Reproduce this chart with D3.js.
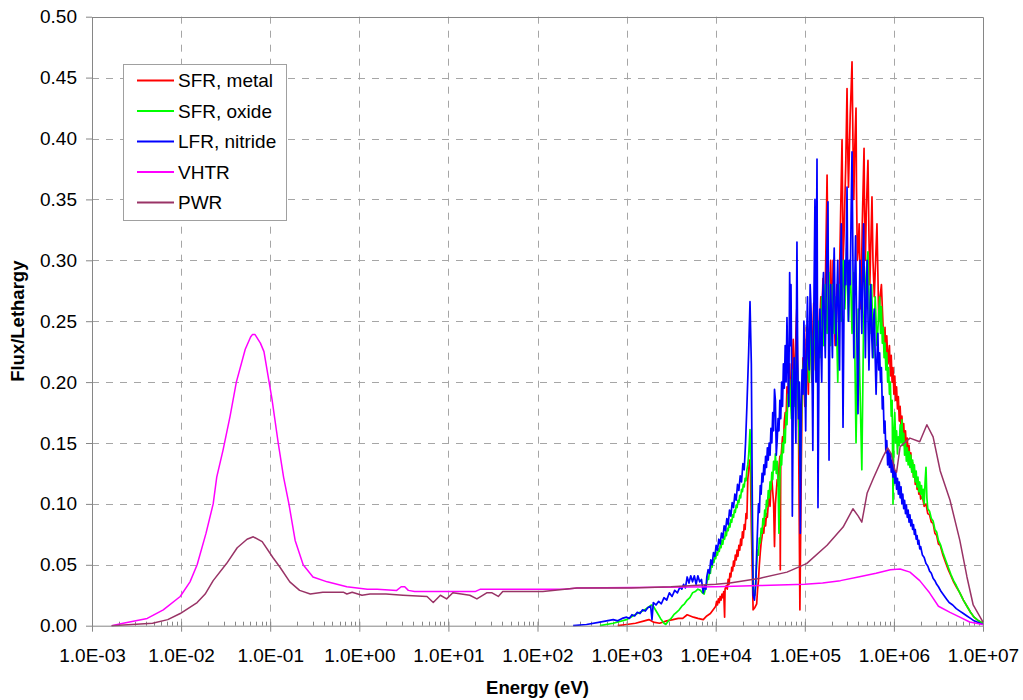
<!DOCTYPE html>
<html>
<head>
<meta charset="utf-8">
<script src="https://cdn.jsdelivr.net/npm/d3@7"></script>
<style>
  body { margin: 0; background: #fff; }
  svg { display: block; }
  text { font-family: "Liberation Sans", Arial, sans-serif; }
</style>
</head>
<body>
<svg id="chart" width="1023" height="700"></svg>
<script>
// Neutron spectra: each point is [log10(E / eV), flux per unit lethargy]

const sfrMetal = [
  [2.90,0.000],[3.00,0.001],[3.10,0.002],[3.20,0.004],[3.25,0.005],[3.30,0.003],[3.37,0.002],
  [3.45,0.004],[3.52,0.005],[3.58,0.006],[3.63,0.006],[3.68,0.009],[3.75,0.007],[3.80,0.006],
  [3.86,0.005],[3.90,0.008],[3.94,0.010],[3.98,0.014],[4.00,0.016],[4.01,0.020],[4.02,0.017],
  [4.03,0.022],[4.04,0.019],[4.05,0.024],[4.06,0.021],[4.07,0.026],[4.08,0.023],[4.09,0.028],
  [4.10,0.007],[4.105,0.030],[4.12,0.033],[4.13,0.030],[4.14,0.038],[4.15,0.034],[4.16,0.043],
  [4.17,0.040],[4.18,0.048],[4.19,0.045],[4.20,0.053],[4.21,0.049],[4.22,0.058],[4.23,0.054],
  [4.24,0.062],[4.25,0.057],[4.26,0.066],[4.27,0.062],[4.28,0.071],[4.29,0.066],[4.30,0.077],
  [4.31,0.072],[4.32,0.083],[4.33,0.079],[4.34,0.092],[4.35,0.088],[4.36,0.120],[4.38,0.136],
  [4.39,0.130],[4.40,0.080],[4.42,0.013],[4.44,0.015],[4.46,0.018],[4.47,0.030],[4.48,0.037],
  [4.49,0.050],[4.50,0.060],[4.51,0.068],[4.52,0.073],[4.53,0.080],[4.54,0.076],[4.55,0.088],
  [4.56,0.082],[4.57,0.092],[4.58,0.089],[4.59,0.100],[4.60,0.106],[4.61,0.098],[4.62,0.115],
  [4.63,0.120],[4.64,0.110],[4.65,0.100],[4.66,0.065],[4.67,0.100],[4.68,0.110],[4.69,0.120],
  [4.70,0.115],[4.71,0.130],[4.72,0.139],[4.725,0.046],[4.73,0.135],[4.74,0.145],[4.75,0.155],
  [4.76,0.150],[4.77,0.168],[4.78,0.175],[4.79,0.170],[4.80,0.196],[4.81,0.185],[4.82,0.205],
  [4.83,0.215],[4.84,0.195],[4.85,0.180],[4.86,0.215],[4.87,0.235],[4.88,0.210],[4.89,0.200],
  [4.90,0.240],[4.91,0.260],[4.92,0.210],[4.93,0.160],[4.945,0.013],[4.96,0.125],[4.97,0.190],
  [4.98,0.220],[4.99,0.200],[5.00,0.180],[5.01,0.220],[5.02,0.245],[5.03,0.215],[5.04,0.190],
  [5.05,0.230],[5.06,0.255],[5.07,0.225],[5.08,0.200],[5.09,0.240],[5.10,0.265],[5.11,0.235],
  [5.12,0.210],[5.13,0.240],[5.14,0.260],[5.15,0.240],[5.16,0.220],[5.17,0.250],[5.18,0.270],
  [5.19,0.250],[5.204,0.285],[5.21,0.255],[5.22,0.230],[5.235,0.300],[5.25,0.370],[5.26,0.300],
  [5.27,0.250],[5.28,0.280],[5.29,0.300],[5.30,0.270],[5.31,0.240],[5.317,0.300],[5.33,0.260],
  [5.34,0.230],[5.35,0.260],[5.36,0.280],[5.37,0.270],[5.38,0.250],[5.39,0.290],[5.40,0.330],
  [5.418,0.399],[5.425,0.340],[5.43,0.300],[5.44,0.320],[5.45,0.350],[5.46,0.380],[5.474,0.441],
  [5.48,0.400],[5.49,0.360],[5.50,0.390],[5.51,0.420],[5.52,0.440],[5.53,0.463],[5.54,0.400],
  [5.55,0.350],[5.56,0.390],[5.575,0.425],[5.58,0.360],[5.59,0.300],[5.60,0.310],[5.61,0.330],
  [5.62,0.290],[5.63,0.260],[5.645,0.330],[5.665,0.392],[5.67,0.340],[5.68,0.300],[5.69,0.340],
  [5.709,0.382],[5.72,0.320],[5.73,0.280],[5.74,0.310],[5.754,0.352],[5.765,0.300],[5.78,0.270],
  [5.795,0.300],[5.81,0.330],[5.82,0.290],[5.83,0.250],[5.845,0.270],[5.86,0.280],[5.877,0.248],
  [5.89,0.225],[5.90,0.245],[5.91,0.220],[5.92,0.238],[5.934,0.215],[5.95,0.230],[5.96,0.205],
  [5.97,0.222],[5.98,0.200],[5.99,0.212],[6.00,0.190],[6.01,0.205],[6.02,0.185],[6.03,0.196],
  [6.04,0.178],[6.05,0.188],[6.06,0.168],[6.07,0.180],[6.08,0.162],[6.09,0.172],[6.10,0.158],
  [6.11,0.166],[6.12,0.150],[6.13,0.160],[6.14,0.146],[6.15,0.154],[6.16,0.140],[6.17,0.148],
  [6.18,0.135],[6.19,0.142],[6.20,0.128],[6.21,0.134],[6.22,0.122],[6.23,0.128],[6.24,0.116],
  [6.25,0.122],[6.26,0.112],[6.27,0.118],[6.28,0.108],[6.29,0.113],[6.30,0.104],[6.32,0.106],
  [6.34,0.098],[6.36,0.100],[6.38,0.092],[6.40,0.091],[6.42,0.085],[6.44,0.084],[6.46,0.076],
  [6.48,0.074],[6.50,0.067],[6.52,0.066],[6.55,0.058],[6.58,0.052],[6.61,0.046],[6.64,0.041],
  [6.67,0.036],[6.70,0.032],[6.74,0.027],[6.78,0.021],[6.82,0.016],[6.86,0.011],[6.90,0.007],
  [6.95,0.004],[7.00,0.002]
];

const sfrOxide = [
  [2.70,0.000],[2.85,0.002],[3.00,0.005],[3.07,0.008],[3.12,0.010],[3.18,0.012],[3.24,0.015],
  [3.28,0.017],[3.30,0.016],[3.34,0.011],[3.38,0.006],[3.42,0.002],[3.44,0.001],[3.47,0.004],
  [3.50,0.006],[3.53,0.009],[3.56,0.011],[3.59,0.013],[3.62,0.016],[3.65,0.018],[3.68,0.021],
  [3.71,0.023],[3.74,0.027],[3.77,0.028],[3.80,0.030],[3.83,0.029],[3.85,0.027],[3.87,0.026],
  [3.90,0.035],[3.91,0.040],[3.92,0.038],[3.93,0.045],[3.94,0.043],[3.95,0.050],[3.96,0.048],
  [3.97,0.054],[3.98,0.052],[3.99,0.057],[4.00,0.055],[4.01,0.060],[4.02,0.058],[4.03,0.063],
  [4.04,0.061],[4.05,0.066],[4.06,0.064],[4.07,0.070],[4.08,0.067],[4.09,0.073],[4.10,0.071],
  [4.11,0.077],[4.12,0.074],[4.13,0.080],[4.14,0.078],[4.15,0.084],[4.16,0.081],[4.17,0.087],
  [4.18,0.085],[4.19,0.091],[4.20,0.089],[4.21,0.095],[4.22,0.093],[4.23,0.099],[4.24,0.097],
  [4.25,0.103],[4.26,0.101],[4.27,0.107],[4.28,0.105],[4.29,0.112],[4.30,0.110],[4.31,0.116],
  [4.32,0.114],[4.33,0.121],[4.34,0.119],[4.35,0.128],[4.36,0.132],[4.37,0.140],[4.385,0.161],
  [4.40,0.120],[4.42,0.030],[4.44,0.025],[4.46,0.051],[4.47,0.062],[4.48,0.058],[4.49,0.072],
  [4.50,0.068],[4.51,0.080],[4.52,0.076],[4.53,0.088],[4.54,0.083],[4.55,0.095],[4.56,0.090],
  [4.57,0.103],[4.58,0.098],[4.59,0.111],[4.60,0.105],[4.61,0.118],[4.62,0.112],[4.63,0.126],
  [4.64,0.120],[4.65,0.135],[4.66,0.128],[4.67,0.141],[4.68,0.125],[4.69,0.135],[4.70,0.118],
  [4.71,0.076],[4.72,0.120],[4.73,0.140],[4.74,0.132],[4.75,0.150],[4.76,0.142],[4.77,0.161],
  [4.78,0.150],[4.79,0.175],[4.80,0.165],[4.81,0.190],[4.82,0.180],[4.83,0.202],[4.85,0.170],
  [4.87,0.210],[4.89,0.180],[4.91,0.230],[4.93,0.170],[4.95,0.120],[4.97,0.200],[4.99,0.220],
  [5.01,0.180],[5.03,0.240],[5.05,0.200],[5.07,0.250],[5.09,0.190],[5.11,0.260],[5.13,0.210],
  [5.15,0.250],[5.17,0.220],[5.19,0.270],[5.21,0.230],[5.23,0.280],[5.25,0.240],[5.27,0.290],
  [5.29,0.230],[5.31,0.280],[5.33,0.240],[5.35,0.270],[5.37,0.200],[5.39,0.280],[5.41,0.250],
  [5.43,0.300],[5.45,0.260],[5.47,0.310],[5.49,0.250],[5.51,0.300],[5.53,0.240],[5.55,0.290],
  [5.575,0.150],[5.60,0.260],[5.64,0.128],[5.66,0.250],[5.69,0.290],[5.709,0.307],[5.73,0.240],
  [5.75,0.280],[5.77,0.220],[5.79,0.270],[5.81,0.230],[5.84,0.270],[5.85,0.240],[5.86,0.262],
  [5.87,0.232],[5.88,0.245],[5.89,0.220],[5.90,0.232],[5.91,0.210],[5.92,0.224],[5.93,0.200],
  [5.94,0.212],[5.95,0.190],[5.96,0.200],[5.97,0.172],[5.98,0.185],[5.99,0.100],[6.00,0.160],
  [6.01,0.175],[6.02,0.150],[6.03,0.160],[6.04,0.141],[6.05,0.155],[6.06,0.148],[6.07,0.165],
  [6.08,0.150],[6.09,0.169],[6.10,0.148],[6.11,0.158],[6.12,0.140],[6.13,0.150],[6.14,0.135],
  [6.15,0.146],[6.16,0.132],[6.17,0.143],[6.18,0.130],[6.19,0.140],[6.20,0.126],[6.21,0.136],
  [6.22,0.122],[6.23,0.132],[6.24,0.118],[6.25,0.127],[6.26,0.114],[6.27,0.122],[6.28,0.110],
  [6.29,0.118],[6.30,0.108],[6.31,0.115],[6.32,0.104],[6.33,0.112],[6.34,0.100],[6.35,0.118],
  [6.36,0.130],[6.37,0.105],[6.38,0.096],[6.40,0.094],[6.42,0.088],[6.44,0.086],[6.46,0.079],
  [6.48,0.077],[6.50,0.070],[6.52,0.067],[6.55,0.060],[6.58,0.054],[6.61,0.048],[6.64,0.042],
  [6.67,0.037],[6.70,0.033],[6.74,0.027],[6.78,0.021],[6.82,0.016],[6.86,0.011],[6.90,0.007],
  [6.95,0.004],[7.00,0.002]
];

const lfrNitride = [
  [2.40,0.000],[2.55,0.001],[2.70,0.003],[2.85,0.005],[2.90,0.004],[2.95,0.006],[3.00,0.007],
  [3.03,0.006],[3.06,0.009],[3.09,0.008],[3.12,0.011],[3.15,0.010],[3.18,0.013],[3.21,0.012],
  [3.24,0.015],[3.27,0.016],[3.285,0.005],[3.30,0.019],[3.33,0.017],[3.36,0.020],[3.39,0.018],
  [3.42,0.023],[3.45,0.021],[3.48,0.027],[3.51,0.024],[3.54,0.029],[3.57,0.027],[3.60,0.032],
  [3.62,0.030],[3.64,0.034],[3.66,0.031],[3.68,0.040],[3.70,0.035],[3.72,0.041],[3.74,0.036],
  [3.76,0.041],[3.78,0.034],[3.80,0.041],[3.82,0.036],[3.84,0.038],[3.86,0.027],[3.875,0.033],
  [3.89,0.030],[3.90,0.040],[3.915,0.046],[3.93,0.043],[3.945,0.054],[3.96,0.050],[3.975,0.060],
  [3.99,0.057],[4.005,0.066],[4.02,0.062],[4.035,0.071],[4.05,0.067],[4.065,0.076],[4.08,0.072],
  [4.095,0.082],[4.11,0.078],[4.125,0.088],[4.14,0.083],[4.155,0.095],[4.17,0.090],[4.185,0.101],
  [4.20,0.097],[4.215,0.108],[4.23,0.103],[4.245,0.116],[4.26,0.111],[4.275,0.123],[4.29,0.118],
  [4.305,0.133],[4.32,0.128],[4.335,0.150],[4.35,0.180],[4.37,0.225],[4.385,0.266],[4.40,0.215],
  [4.41,0.110],[4.42,0.025],[4.435,0.021],[4.45,0.035],[4.46,0.060],[4.47,0.080],[4.48,0.100],
  [4.49,0.093],[4.50,0.115],[4.51,0.108],[4.52,0.125],[4.53,0.118],[4.54,0.132],[4.55,0.124],
  [4.56,0.139],[4.57,0.130],[4.58,0.146],[4.59,0.136],[4.60,0.150],[4.61,0.140],[4.62,0.162],
  [4.63,0.150],[4.64,0.175],[4.65,0.160],[4.66,0.194],[4.67,0.185],[4.68,0.140],[4.69,0.152],
  [4.70,0.170],[4.71,0.160],[4.72,0.185],[4.73,0.170],[4.74,0.200],[4.75,0.180],[4.76,0.215],
  [4.77,0.195],[4.78,0.230],[4.79,0.200],[4.80,0.253],[4.81,0.210],[4.82,0.180],[4.83,0.290],
  [4.84,0.230],[4.845,0.280],[4.855,0.180],[4.86,0.090],[4.87,0.180],[4.88,0.220],[4.89,0.190],
  [4.90,0.150],[4.905,0.240],[4.912,0.315],[4.92,0.220],[4.93,0.170],[4.94,0.200],[4.95,0.076],
  [4.96,0.180],[4.97,0.210],[4.98,0.190],[4.99,0.250],[5.00,0.210],[5.01,0.160],[5.02,0.230],
  [5.03,0.270],[5.04,0.220],[5.05,0.210],[5.06,0.280],[5.07,0.260],[5.08,0.220],[5.09,0.144],
  [5.10,0.250],[5.114,0.350],[5.12,0.280],[5.125,0.200],[5.13,0.300],[5.137,0.383],[5.142,0.250],
  [5.148,0.097],[5.16,0.220],[5.17,0.260],[5.18,0.230],[5.19,0.200],[5.20,0.270],[5.21,0.290],
  [5.22,0.250],[5.23,0.220],[5.245,0.300],[5.26,0.348],[5.266,0.250],[5.272,0.136],[5.28,0.240],
  [5.29,0.280],[5.30,0.250],[5.31,0.220],[5.32,0.280],[5.33,0.310],[5.34,0.260],[5.35,0.230],
  [5.36,0.270],[5.37,0.300],[5.38,0.250],[5.39,0.210],[5.40,0.290],[5.41,0.330],[5.42,0.250],
  [5.429,0.163],[5.44,0.260],[5.45,0.300],[5.46,0.280],[5.474,0.360],[5.48,0.300],[5.49,0.250],
  [5.50,0.300],[5.51,0.280],[5.52,0.340],[5.53,0.389],[5.54,0.300],[5.55,0.220],[5.56,0.280],
  [5.57,0.320],[5.58,0.260],[5.597,0.174],[5.61,0.260],[5.62,0.300],[5.63,0.270],[5.64,0.240],
  [5.65,0.290],[5.66,0.330],[5.67,0.270],[5.68,0.220],[5.69,0.270],[5.70,0.300],[5.71,0.250],
  [5.72,0.210],[5.73,0.250],[5.74,0.280],[5.75,0.240],[5.76,0.220],[5.77,0.250],[5.78,0.260],
  [5.79,0.220],[5.80,0.190],[5.81,0.220],[5.82,0.240],[5.83,0.210],[5.84,0.224],[5.85,0.200],
  [5.86,0.212],[5.87,0.178],[5.88,0.188],[5.89,0.158],[5.90,0.168],[5.91,0.142],[5.92,0.152],
  [5.93,0.132],[5.94,0.144],[5.95,0.130],[5.96,0.142],[5.97,0.126],[5.98,0.136],[5.99,0.122],
  [6.00,0.132],[6.01,0.117],[6.02,0.127],[6.03,0.112],[6.04,0.121],[6.05,0.108],[6.06,0.118],
  [6.07,0.105],[6.08,0.114],[6.09,0.100],[6.10,0.108],[6.11,0.096],[6.12,0.103],[6.13,0.092],
  [6.14,0.099],[6.15,0.089],[6.16,0.095],[6.17,0.085],[6.18,0.091],[6.19,0.082],[6.20,0.087],
  [6.21,0.079],[6.22,0.083],[6.23,0.075],[6.24,0.079],[6.25,0.071],[6.26,0.074],[6.27,0.067],
  [6.28,0.070],[6.29,0.063],[6.30,0.065],[6.32,0.058],[6.34,0.056],[6.36,0.051],[6.38,0.049],
  [6.40,0.045],[6.42,0.043],[6.44,0.039],[6.46,0.037],[6.48,0.034],[6.50,0.032],[6.53,0.028],
  [6.56,0.025],[6.59,0.022],[6.62,0.019],[6.66,0.017],[6.70,0.014],[6.74,0.012],[6.78,0.010],
  [6.82,0.008],[6.86,0.006],[6.90,0.004],[7.00,0.001]
];

const vhtr = [
  [-2.78,0.000],[-2.65,0.002],[-2.38,0.006],[-2.20,0.013],[-2.01,0.024],[-1.90,0.036],[-1.82,0.050],
  [-1.72,0.076],[-1.64,0.100],[-1.60,0.122],[-1.53,0.144],[-1.45,0.172],[-1.38,0.200],[-1.28,0.227],
  [-1.22,0.237],[-1.20,0.239],[-1.17,0.239],[-1.11,0.232],[-1.07,0.225],[-0.98,0.186],[-0.91,0.150],
  [-0.85,0.122],[-0.79,0.100],[-0.72,0.070],[-0.63,0.050],[-0.52,0.040],[-0.36,0.036],[-0.14,0.032],
  [0.09,0.030],[0.20,0.030],[0.42,0.029],[0.47,0.032],[0.51,0.032],[0.55,0.029],[0.62,0.028],
  [1.30,0.028],[1.36,0.030],[2.30,0.030],[2.45,0.031],[4.00,0.032],[4.50,0.033],[5.00,0.034],
  [5.20,0.035],[5.40,0.037],[5.60,0.040],[5.80,0.043],[5.96,0.046],[6.07,0.0465],[6.18,0.044],
  [6.29,0.037],[6.40,0.027],[6.50,0.016],[6.63,0.011],[6.74,0.007],[6.85,0.003],[7.00,0.001]
];

const pwr = [
  [-2.78,0.000],[-2.32,0.002],[-2.15,0.005],[-2.01,0.010],[-1.82,0.019],[-1.73,0.026],[-1.64,0.037],
  [-1.49,0.051],[-1.37,0.064],[-1.26,0.071],[-1.19,0.073],[-1.09,0.069],[-0.97,0.056],[-0.89,0.048],
  [-0.78,0.036],[-0.67,0.029],[-0.55,0.026],[-0.41,0.0275],[-0.18,0.0275],[-0.14,0.026],[-0.08,0.0275],
  [0.03,0.025],[0.12,0.026],[0.30,0.026],[0.49,0.025],[0.76,0.024],[0.83,0.019],[0.91,0.025],
  [0.98,0.022],[1.05,0.027],[1.24,0.025],[1.32,0.022],[1.43,0.027],[1.49,0.027],[1.56,0.024],
  [1.61,0.028],[2.06,0.028],[2.44,0.031],[3.05,0.031],[3.50,0.032],[4.00,0.034],[4.16,0.035],
  [4.50,0.039],[4.80,0.044],[5.02,0.051],[5.25,0.066],[5.43,0.081],[5.54,0.096],[5.60,0.090],
  [5.64,0.085],[5.70,0.109],[5.77,0.121],[5.88,0.139],[5.93,0.146],[5.97,0.141],[6.01,0.128],
  [6.03,0.126],[6.07,0.147],[6.18,0.154],[6.29,0.151],[6.37,0.165],[6.44,0.155],[6.52,0.127],
  [6.63,0.103],[6.74,0.070],[6.82,0.040],[6.89,0.017],[7.00,0.003]
];

const seriesNames  = ["SFR, metal", "SFR, oxide", "LFR, nitride", "VHTR", "PWR"];
const seriesColors = ["#ff0000", "#00ff00", "#0000ff", "#ff00ff", "#993366"];
const seriesData   = [sfrMetal, sfrOxide, lfrNitride, vhtr, pwr];

const xDecades = [-3, -2, -1, 0, 1, 2, 3, 4, 5, 6, 7];
const yTicks   = [0, 0.05, 0.10, 0.15, 0.20, 0.25, 0.30, 0.35, 0.40, 0.45, 0.50];

const plot = { left: 92, right: 983, top: 16.7, bottom: 625.7 };
const axisGrey = "#868686";
const fontSize = 19;

const svg = d3.select("#chart");

const x = d3.scaleLog().domain([1e-3, 1e7]).range([plot.left, plot.right]);
const y = d3.scaleLinear().domain([0, 0.5]).range([plot.bottom, plot.top]);

const expLabel = e => "1.0E" + (e < 0 ? "-" : "+") + String(Math.abs(e)).padStart(2, "0");

// dashed grid
const grid = svg.append("g").attr("stroke", "#a6a6a6").attr("stroke-width", 1)
  .attr("stroke-dasharray", "7,7").attr("fill", "none");
grid.selectAll("line.h").data(yTicks.filter(v => v > 0 && v < 0.5)).join("line")
  .attr("x1", plot.left).attr("x2", plot.right)
  .attr("y1", d => Math.round(y(d)) + 0.5).attr("y2", d => Math.round(y(d)) + 0.5);
grid.selectAll("line.v").data(xDecades.slice(1, -1)).join("line")
  .attr("y1", plot.top).attr("y2", plot.bottom)
  .attr("x1", d => Math.round(x(Math.pow(10, d))) + 0.5)
  .attr("x2", d => Math.round(x(Math.pow(10, d))) + 0.5);

// plot-area border (top and right)
svg.append("path")
  .attr("d", `M${plot.left},${Math.round(plot.top) + 0.5}H${Math.round(plot.right) + 0.5}V${plot.bottom}`)
  .attr("fill", "none").attr("stroke", axisGrey).attr("stroke-width", 1);

// minor x ticks (2..9 in each decade)
const minors = [];
xDecades.slice(0, -1).forEach(d => { for (let k = 2; k <= 9; k++) minors.push(k * Math.pow(10, d)); });
svg.append("g").selectAll("line").data(minors).join("line")
  .attr("x1", d => Math.round(x(d)) + 0.5).attr("x2", d => Math.round(x(d)) + 0.5)
  .attr("y1", plot.bottom - 4).attr("y2", plot.bottom)
  .attr("stroke", axisGrey).attr("stroke-width", 1);

// series lines
const line = d3.line()
  .x(d => x(Math.pow(10, d[0])))
  .y(d => y(d[1]));

svg.append("g").selectAll("path").data(seriesData).join("path")
  .attr("d", line)
  .attr("fill", "none")
  .attr("stroke", (d, i) => seriesColors[i])
  .attr("stroke-width", (d, i) => i < 3 ? 1.7 : 1.5)
  .attr("stroke-linejoin", "round");

// x axis
const xAxis = svg.append("g").attr("transform", `translate(0,${plot.bottom})`)
  .call(d3.axisBottom(x)
    .tickValues(xDecades.map(d => Math.pow(10, d)))
    .tickFormat((v, i) => expLabel(xDecades[i]))
    .tickSizeInner(6).tickSizeOuter(0).tickPadding(16.5));
xAxis.select(".domain").attr("stroke", axisGrey);
xAxis.selectAll(".tick line").attr("stroke", axisGrey).attr("y1", -4);
xAxis.selectAll(".tick text").attr("font-size", fontSize).attr("fill", "#000")
  .attr("font-family", "'Liberation Sans', Arial, sans-serif");

// y axis
const yAxis = svg.append("g").attr("transform", `translate(${plot.left},0)`)
  .call(d3.axisLeft(y).tickValues(yTicks).tickFormat(d3.format(".2f"))
    .tickSizeInner(6).tickSizeOuter(0).tickPadding(9));
yAxis.select(".domain").attr("stroke", axisGrey);
yAxis.selectAll(".tick line").attr("stroke", axisGrey);
yAxis.selectAll(".tick text").attr("font-size", fontSize).attr("fill", "#000")
  .attr("font-family", "'Liberation Sans', Arial, sans-serif");

// axis titles
svg.append("text")
  .attr("x", (plot.left + plot.right) / 2).attr("y", 694)
  .attr("text-anchor", "middle").attr("font-size", 18.5).attr("font-weight", "bold")
  .text("Energy (eV)");
svg.append("text")
  .attr("transform", `translate(24,${(plot.top + plot.bottom) / 2}) rotate(-90)`)
  .attr("text-anchor", "middle").attr("font-size", 18.5).attr("font-weight", "bold")
  .text("Flux/Lethargy");

// legend
const legend = svg.append("g");
legend.append("rect")
  .attr("x", 123.5).attr("y", 64.5).attr("width", 163).attr("height", 156)
  .attr("fill", "#fff").attr("stroke", "#a0a0a0").attr("stroke-width", 1);
const rowY = i => 80.5 + i * 30.5;
const items = legend.selectAll("g").data(seriesNames).join("g")
  .attr("transform", (d, i) => `translate(0,${rowY(i)})`);
items.append("line")
  .attr("x1", 137).attr("x2", 174).attr("y1", 0).attr("y2", 0)
  .attr("stroke", (d, i) => seriesColors[i]).attr("stroke-width", 2);
items.append("text")
  .attr("x", 178).attr("y", 0).attr("dy", "0.36em")
  .attr("font-size", fontSize).attr("fill", "#000")
  .text(d => d);
</script>
</body>
</html>
